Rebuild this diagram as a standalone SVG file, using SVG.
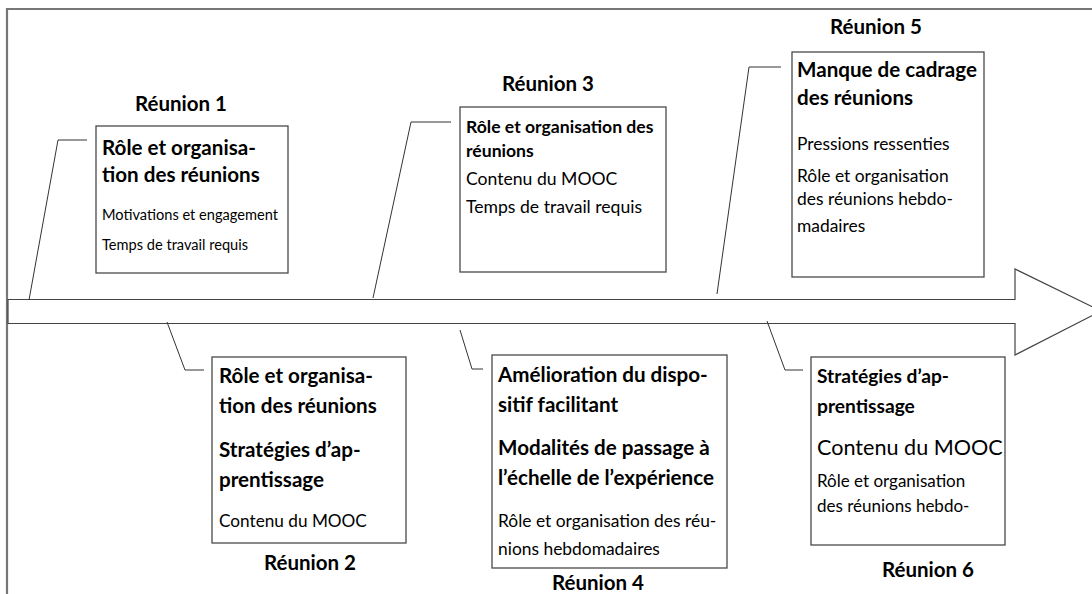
<svg xmlns="http://www.w3.org/2000/svg" width="1092" height="594" viewBox="0 0 1092 594">
<style>
.box{fill:#fff;stroke:#4a4a4a;stroke-width:1.3}
.ttl{font-family:Lato,"Open Sans",sans-serif;font-weight:bold;font-size:20.5px;fill:#000;text-anchor:middle}
.b{font-family:Lato,"Open Sans",sans-serif;font-weight:bold;font-size:20.6px;fill:#000}
.r{font-family:Lato,"Open Sans",sans-serif;font-size:17.4px;fill:#000}
.conn{fill:none;stroke:#333;stroke-width:1}
</style>
<rect width="1092" height="594" fill="#fff"/>
<path d="M7,594 V9 H1092" fill="none" stroke="#777" stroke-width="2.2"/>
<g id="timeline">
<polygon points="8,299.5 1015,299.5 1015,269 1101,311 1015,355 1015,323.5 8,323.5" fill="#fff" stroke="#444" stroke-width="1.2"/>
</g>
<g id="connectors">
<polyline class="conn" points="29,300 58,140 87,140"/>
<polyline class="conn" points="167,322 185,370 204,370"/>
<polyline class="conn" points="373,298 411,122 451,122"/>
<polyline class="conn" points="460,330 472,369 483,369"/>
<polyline class="conn" points="717,294 749,67 781,67"/>
<polyline class="conn" points="767,321 785,370 803,370"/>
</g>
<g id="reunion1">
<text class="ttl" x="181" y="111">Réunion 1</text>
<rect class="box" x="96" y="126" width="192" height="147"/>
<text class="b" x="102" y="155">Rôle et organisa-</text>
<text class="b" x="102" y="182">tion des réunions</text>
<text class="r" x="102" y="220" style="font-size:14.6px">Motivations et engagement</text>
<text class="r" x="102" y="250" style="font-size:14.6px">Temps de travail requis</text>
</g>
<g id="reunion2">
<text class="ttl" x="310" y="570">Réunion 2</text>
<rect class="box" x="212" y="357" width="194" height="186"/>
<text class="b" x="219" y="383">Rôle et organisa-</text>
<text class="b" x="219" y="413">tion des réunions</text>
<text class="b" x="219" y="457">Stratégies d’ap-</text>
<text class="b" x="219" y="487">prentissage</text>
<text class="r" x="219" y="527" style="font-size:17.2px">Contenu du MOOC</text>
</g>
<g id="reunion3">
<text class="ttl" x="548" y="91">Réunion 3</text>
<rect class="box" x="460" y="107" width="206" height="165"/>
<text class="b" x="466" y="133" style="font-size:17.6px">Rôle et organisation des</text>
<text class="b" x="466" y="157" style="font-size:17.6px">réunions</text>
<text class="r" x="466" y="185" style="font-size:17.6px">Contenu du MOOC</text>
<text class="r" x="466" y="213" style="font-size:17.6px">Temps de travail requis</text>
</g>
<g id="reunion4">
<text class="ttl" x="598" y="590">Réunion 4</text>
<rect class="box" x="492" y="355" width="235" height="213"/>
<text class="b" x="498" y="382">Amélioration du dispo-</text>
<text class="b" x="498" y="412">sitif facilitant</text>
<text class="b" x="498" y="455">Modalités de passage à</text>
<text class="b" x="498" y="485">l’échelle de l’expérience</text>
<text class="r" x="498" y="527">Rôle et organisation des réu-</text>
<text class="r" x="498" y="555">nions hebdomadaires</text>
</g>
<g id="reunion5">
<text class="ttl" x="876" y="34">Réunion 5</text>
<rect class="box" x="792" y="52" width="192" height="225"/>
<text class="b" x="797" y="77">Manque de cadrage</text>
<text class="b" x="797" y="105">des réunions</text>
<text class="r" x="797" y="150">Pressions ressenties</text>
<text class="r" x="797" y="182">Rôle et organisation</text>
<text class="r" x="797" y="205">des réunions hebdo-</text>
<text class="r" x="797" y="232">madaires</text>
</g>
<g id="reunion6">
<text class="ttl" x="928" y="577">Réunion 6</text>
<rect class="box" x="811" y="357" width="194" height="188"/>
<text class="b" x="817" y="383" style="font-size:19.2px">Stratégies d’ap-</text>
<text class="b" x="817" y="413" style="font-size:19.2px">prentissage</text>
<text class="r" x="817" y="455" style="font-size:21.6px">Contenu du MOOC</text>
<text class="r" x="817" y="487" style="font-size:17px">Rôle et organisation</text>
<text class="r" x="817" y="512" style="font-size:17px">des réunions hebdo-</text>
</g>
</svg>
